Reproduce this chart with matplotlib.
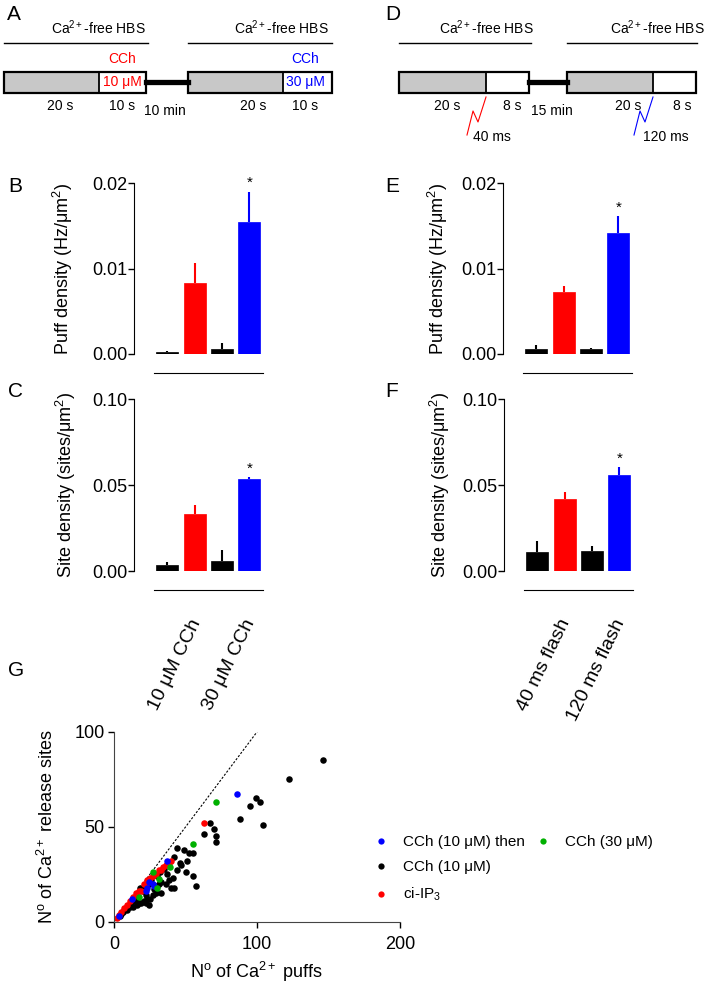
import matplotlib.pyplot as plt
from matplotlib.patches import Rectangle
from matplotlib.lines import Line2D
from matplotlib.transforms import ScaledTranslation

plt.rcParams['font.family'] = ['Liberation Sans', 'DejaVu Sans']
plt.rcParams['mathtext.fontset'] = 'custom'
plt.rcParams['mathtext.rm'] = 'Liberation Sans'
plt.rcParams['mathtext.it'] = 'Liberation Sans:italic'
plt.rcParams['mathtext.default'] = 'regular'

# ---- data ----
cch_ticks = ['10 μM CCh', '30 μM CCh']
flash_ticks = ['40 ms flash', '120 ms flash']

puff_cch = [0.0002, 0.0083, 0.00055, 0.0154]
puff_cch_err = [0.0001, 0.0023, 0.0007, 0.0036]
site_cch = [0.0037, 0.0333, 0.0058, 0.0532]
site_cch_err = [0.0015, 0.0050, 0.0062, 0.0014]

puff_flash = [0.0006, 0.00725, 0.0006, 0.0142]
puff_flash_err = [0.0005, 0.0007, 0.00015, 0.0019]
site_flash = [0.0111, 0.0418, 0.0118, 0.0561]
site_flash_err = [0.0064, 0.0044, 0.0028, 0.0043]

# scatter: number of puffs vs number of release sites
black_x = [146, 122, 99, 102, 95, 88, 104, 67, 63, 70, 71, 71, 44, 49, 55, 52, 42, 51, 47, 46,
           44, 50, 55, 57, 41, 38, 33, 36, 40, 42, 33, 37,
           30, 28, 25, 22, 20, 19, 16, 13, 9, 5, 18, 26, 24, 15, 12, 10, 7,
           21, 23, 17, 14, 27, 30, 32, 35, 20, 11, 8, 6, 4, 24, 22, 29, 31]
black_y = [85, 75, 65, 63, 61, 54, 51, 52, 46, 49, 45, 42, 39, 38, 36, 36, 34, 32, 30, 31,
           27, 26, 24, 19, 23, 22, 21, 20, 18, 18, 15, 25,
           19, 17, 12, 14, 16, 10, 9, 8, 6, 4, 18, 22, 20, 12, 10, 9, 6,
           11, 12, 10, 11, 14, 24, 26, 28, 17, 8, 7, 5, 3, 9, 10, 15, 20]
red_x = [63, 40, 34, 33, 31, 29, 27, 23, 22, 19, 17, 15, 13, 11, 9, 7, 5, 3.5, 2, 25, 21, 36, 38]
red_y = [52, 32, 29, 27, 27, 25, 24, 22, 20, 16, 16, 15, 13, 11, 9, 7, 5, 3.5, 2, 23, 20, 30, 31]
blue_x = [86, 37, 24.5, 27, 23, 22, 12.6, 3, 28]
blue_y = [67, 32, 21, 20, 17.5, 16, 12, 3, 19]
green_x = [71, 55, 27, 39, 31, 30, 17]
green_y = [63, 41, 26, 29, 22.5, 18, 13]
unity = [0, 100]

bar_colors = ['black', 'red', 'black', 'blue']

W, H = 704, 984
fig = plt.figure(figsize=(W / 100, H / 100), dpi=100)


def px(l, t, r, b):
    return [l / W, 1 - b / H, (r - l) / W, (b - t) / H]


# ---- protocol schematics (A, D) ----
ov = fig.add_axes([0, 0, 1, 1])
ov.set_xlim(0, W)
ov.set_ylim(H, 0)
ov.axis('off')


def trial_box(x0, xs, x1, y0=72, y1=93):
    ov.add_patch(Rectangle((x0, y0), xs - x0, y1 - y0, fc='#c8c8c8', ec='none'))
    ov.add_patch(Rectangle((x0, y0), x1 - x0, y1 - y0, fc='none', ec='k', lw=1.6))
    ov.plot([xs, xs], [y0, y1], color='k', lw=1.3)


def bath(x0, x1, xc):
    ov.plot([x0, x1], [43, 43], color='k', lw=1.0)
    ov.text(xc, 28, 'Ca$^{2+}$-free HBS', ha='center', va='center', fontsize=10)


fs = 10
# A
bath(4, 148, 98)
bath(188, 332, 281)
trial_box(4, 99, 146)
trial_box(188, 283, 332)
ov.plot([146, 188], [82, 82], color='k', lw=3.8)
ov.text(122, 59, 'CCh', color='red', ha='center', va='center', fontsize=fs)
ov.text(122, 82, '10 μM', color='red', ha='center', va='center', fontsize=fs)
ov.text(305, 59, 'CCh', color='blue', ha='center', va='center', fontsize=fs)
ov.text(305, 82, '30 μM', color='blue', ha='center', va='center', fontsize=fs)
for x, s in [(60, '20 s'), (122, '10 s'), (253, '20 s'), (305, '10 s')]:
    ov.text(x, 106, s, ha='center', va='center', fontsize=fs)
ov.text(165, 111, '10 min', ha='center', va='center', fontsize=fs)

# D
bath(399, 531, 486)
bath(567, 697, 657)
trial_box(399, 486, 529)
trial_box(567, 653, 696)
ov.plot([529, 567], [82, 82], color='k', lw=3.8)
for x, s in [(447, '20 s'), (512, '8 s'), (628, '20 s'), (682, '8 s')]:
    ov.text(x, 106, s, ha='center', va='center', fontsize=fs)
ov.text(552, 111, '15 min', ha='center', va='center', fontsize=fs)
for dx, col in [(0, 'red'), (167, 'blue')]:
    ov.plot([467 + dx, 473 + dx, 478 + dx, 486 + dx], [135, 111, 122, 97], color=col, lw=0.8)
ov.text(473, 137, '40 ms', ha='left', va='center', fontsize=fs)
ov.text(643, 137, '120 ms', ha='left', va='center', fontsize=fs)


# ---- bar panels ----
def bar_panel(rect, vals, errs, ymax, ylabel, label_x, ticklabels=None):
    ax = fig.add_axes(rect)
    ax.set_facecolor('none')
    pos = list(range(len(vals)))
    ax.bar(pos, vals, width=0.8, color=bar_colors, edgecolor=bar_colors, lw=0.5, zorder=2)
    for i in pos:
        ax.errorbar(i, vals[i], yerr=[[0], [errs[i]]], color=bar_colors[i],
                    lw=1.5, capsize=0, zorder=1)
    ax.annotate('*', (3, vals[3] + errs[3]), xytext=(0, 1), textcoords='offset points',
                ha='center', va='bottom', fontsize=11)
    ax.set_xlim(-1.22, 3.5)
    ax.set_ylim(0, ymax)
    ax.set_yticks([0, ymax / 2, ymax])
    ax.set_yticklabels(['%.2f' % v for v in [0, ymax / 2, ymax]], fontsize=13)
    ax.spines[['top', 'right']].set_visible(False)
    ax.spines['bottom'].set_position(('outward', 13.5))
    ax.spines['bottom'].set_bounds(-0.5, 3.5)
    ax.tick_params(axis='y', direction='out', length=4, width=1, pad=1)
    ax.set_ylabel(ylabel, fontsize=13)
    ax.yaxis.set_label_coords(label_x, 0.5)
    if ticklabels:
        ax.set_xticks([1, 3])
        ax.set_xticklabels(ticklabels, rotation=64, ha='right', va='top',
                           rotation_mode='anchor', fontsize=14)
        ax.tick_params(axis='x', length=0, pad=19)
        shift = ScaledTranslation(-6 / 100, 0, fig.dpi_scale_trans)
        for lab in ax.get_xticklabels():
            lab.set_transform(lab.get_transform() + shift)
    else:
        ax.set_xticks([])
    return ax


bar_panel(px(134, 183, 263, 354), puff_cch, puff_cch_err, 0.02,
          'Puff density (Hz/μm$^2$)', -0.455)
bar_panel(px(134, 399, 263, 571), site_cch, site_cch_err, 0.10,
          'Site density (sites/μm$^2$)', -0.434, cch_ticks)
bar_panel(px(503, 183, 632, 354), puff_flash, puff_flash_err, 0.02,
          'Puff density (Hz/μm$^2$)', -0.411)
bar_panel(px(504, 399, 633, 571), site_flash, site_flash_err, 0.10,
          'Site density (sites/μm$^2$)', -0.405, flash_ticks)

# ---- scatter panel G ----
ax = fig.add_axes(px(114.3, 731.7, 400, 921.7))
ax.set_facecolor('none')
ax.plot(unity, unity, color='k', lw=0.8, ls=(0, (2, 1.5)), zorder=1)
kw = dict(s=22, linewidths=0, clip_on=False, zorder=2)
ax.scatter(black_x, black_y, color='black', **kw)
ax.scatter(red_x, red_y, color='#ff0000', **kw)
ax.scatter(blue_x, blue_y, color='#0000ff', **kw)
ax.scatter(green_x, green_y, color='#00b000', **kw)
ax.set_xlim(0, 200)
ax.set_ylim(0, 100)
ax.set_xticks([0, 100, 200])
ax.set_yticks([0, 50, 100])
ax.tick_params(labelsize=13, length=4, width=1, pad=3)
ax.tick_params(axis='x', pad=6)
ax.spines[['top', 'right']].set_visible(False)
for s in ['left', 'bottom']:
    ax.spines[s].set_color('#444444')
ax.set_xlabel('N$^o$ of Ca$^{2+}$ puffs', fontsize=13)
ax.xaxis.set_label_coords(0.5, -0.2)
ax.set_ylabel('N$^o$ of Ca$^{2+}$ release sites', fontsize=13)
ax.yaxis.set_label_coords(-0.2, 0.5)

mk = dict(marker='o', ls='', markersize=4.5, markeredgewidth=0)
handles = [Line2D([], [], color='#0000ff', **mk),
           Line2D([], [], color='black', **mk),
           Line2D([], [], color='#ff0000', **mk)]
lkw = dict(loc='upper left', frameon=False, fontsize=11, handlelength=1.0,
           handletextpad=0.95, labelspacing=0.75, borderpad=0, borderaxespad=0)
fig.legend(handles, ['CCh (10 μM) then', 'CCh (10 μM)', 'ci-IP$_3$'],
           bbox_to_anchor=(373 / W, 1 - 835 / H), **lkw)
fig.legend([Line2D([], [], color='#00b000', **mk)], ['CCh (30 μM)'],
           bbox_to_anchor=(535 / W, 1 - 835 / H), **lkw)

# panel letters
for x, y, s in [(7, 20, 'A'), (385, 20, 'D'), (8, 192, 'B'), (385, 192, 'E'),
                (8, 397, 'C'), (385, 397, 'F'), (8, 676, 'G')]:
    fig.text(x / W, 1 - y / H, s, fontsize=15, ha='left', va='baseline')

fig.savefig('out.png', dpi=100)
